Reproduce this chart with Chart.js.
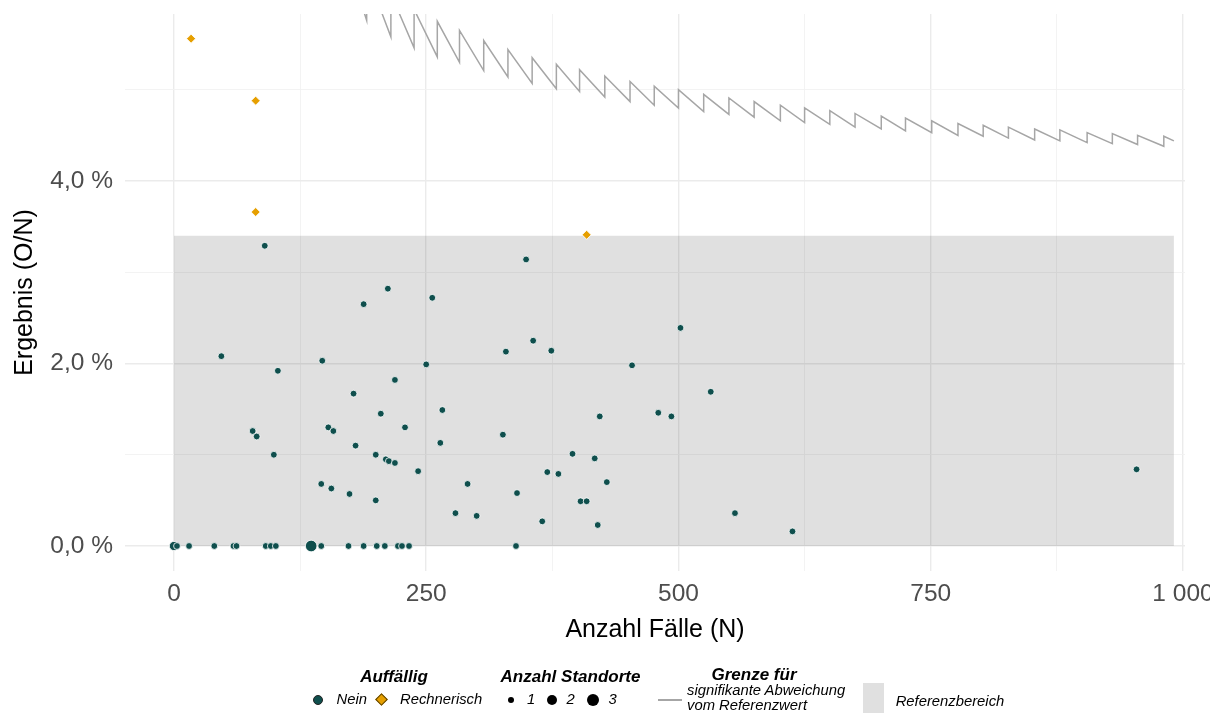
<!DOCTYPE html>
<html lang="de">
<head>
<meta charset="utf-8">
<title>Ergebnis (O/N) nach Anzahl Fälle (N)</title>
<script src="https://cdn.jsdelivr.net/npm/chart.js@4.4.1/dist/chart.umd.min.js"></script>
<style>
  body { margin: 0; background: #fff; font-family: "Liberation Sans", Arial, sans-serif; }
  #wrap { position: relative; width: 1210px; height: 718px; overflow: hidden; }
  #chart { position: absolute; left: 0; top: 0; width: 1226px; height: 718px; }
  .lg { position: absolute; white-space: nowrap; color: #000; }
  .lg-title { font-weight: bold; font-style: italic; font-size: 17px; line-height: 17px; width: 200px; text-align: center; }
  .lg-text { font-style: italic; font-size: 14.8px; line-height: 15px; }
  .key { position: absolute; box-sizing: border-box; }
</style>
</head>
<body>
<div id="wrap">
  <canvas id="chart" width="1226" height="718"></canvas>

  <!-- legend -->
  <div class="lg lg-title" style="left:294px; top:668px;">Auffällig</div>
  <div class="key" style="left:313px; top:694.5px; width:10px; height:10px; border-radius:50%; background:#0F4F4D; border:1px solid #222;"></div>
  <div class="lg lg-text" style="left:336.5px; top:691.7px;">Nein</div>
  <div class="key" style="left:376.5px; top:695px; width:9px; height:9px; transform:rotate(45deg); background:#E69F00; border:1px solid #5a4000;"></div>
  <div class="lg lg-text" style="left:400px; top:691.7px;">Rechnerisch</div>

  <div class="lg lg-title" style="left:470.5px; top:668px;">Anzahl Standorte</div>
  <div class="key" style="left:508px; top:696.5px; width:6px; height:6px; border-radius:50%; background:#000;"></div>
  <div class="lg lg-text" style="left:527px; top:691.7px;">1</div>
  <div class="key" style="left:546.7px; top:694.5px; width:10px; height:10px; border-radius:50%; background:#000;"></div>
  <div class="lg lg-text" style="left:566.5px; top:691.7px;">2</div>
  <div class="key" style="left:587.3px; top:693.5px; width:12px; height:12px; border-radius:50%; background:#000;"></div>
  <div class="lg lg-text" style="left:608.5px; top:691.7px;">3</div>

  <div class="lg lg-title" style="left:654px; top:666px;">Grenze für</div>
  <div class="key" style="left:658px; top:699px; width:24px; height:2px; background:#A6A6A6;"></div>
  <div class="lg lg-text" style="left:687px; top:683.4px; line-height:14.3px;">signifikante Abweichung<br>vom Referenzwert</div>

  <div class="key" style="left:863px; top:683px; width:21px; height:30px; background:#E0E0E0;"></div>
  <div class="lg lg-text" style="left:895.7px; top:694px;">Referenzbereich</div>
</div>

<script>
// ===== DATA =====
// Standorte ohne Auffälligkeit: Fallzahl, Ergebnis in %, Anzahl Standorte
const normN = [
  90, 349, 212, 188, 256, 47, 147, 250, 103, 219,
  178, 205, 266, 78, 82, 153, 158, 229, 180, 264,
  502, 356, 329, 374, 454, 532, 422, 480, 493, 326,
  99, 200, 210, 213, 219, 242, 146, 156, 174, 200,
  395, 417, 370, 381, 291, 429, 340, 403, 409, 279,
  300, 365, 420, 556, 613, 954,
  0, 3, 15, 40, 59, 62, 91, 96, 101, 136,
  146, 173, 188, 201, 209, 222, 226, 233, 339
];
const normRate = [
  3.29, 3.14, 2.82, 2.65, 2.72, 2.08, 2.03, 1.99, 1.92, 1.82,
  1.67, 1.45, 1.49, 1.26, 1.20, 1.30, 1.26, 1.30, 1.10, 1.13,
  2.39, 2.25, 2.13, 2.14, 1.98, 1.69, 1.42, 1.46, 1.42, 1.22,
  1.00, 1.00, 0.95, 0.93, 0.91, 0.82, 0.68, 0.63, 0.57, 0.50,
  1.01, 0.96, 0.81, 0.79, 0.68, 0.70, 0.58, 0.49, 0.49, 0.36,
  0.33, 0.27, 0.23, 0.36, 0.16, 0.84,
  0, 0, 0, 0, 0, 0, 0, 0, 0, 0,
  0, 0, 0, 0, 0, 0, 0, 0, 0
];
const normSites = [
  1, 1, 1, 1, 1, 1, 1, 1, 1, 1,
  1, 1, 1, 1, 1, 1, 1, 1, 1, 1,
  1, 1, 1, 1, 1, 1, 1, 1, 1, 1,
  1, 1, 1, 1, 1, 1, 1, 1, 1, 1,
  1, 1, 1, 1, 1, 1, 1, 1, 1, 1,
  1, 1, 1, 1, 1, 1,
  2, 1, 1, 1, 1, 1, 1, 1, 1, 3,
  1, 1, 1, 1, 1, 1, 1, 1, 1
];

// rechnerisch auffällige Standorte
const flagN = [17, 81, 81, 409];
const flagRate = [5.56, 4.88, 3.66, 3.41];

// Grenze für signifikante Abweichung vom Referenzwert (Sägezahn)
const limitN = [
  168, 191, 191, 215, 215, 238, 238, 261, 261, 283,
  283, 307, 307, 331, 331, 355, 355, 379, 379, 402,
  402, 427, 427, 452, 452, 476, 476, 500, 500, 525,
  525, 550, 550, 575, 575, 601, 601, 625, 625, 650,
  650, 675, 675, 701, 701, 725, 725, 751, 751, 777,
  777, 802, 802, 827, 827, 853, 853, 878, 878, 905,
  905, 930, 930, 955, 955, 981, 981, 991
];
const limitRate = [
  6.55, 5.76, 6.28, 5.58, 6.05, 5.46, 5.88, 5.36, 5.75, 5.30,
  5.65, 5.21, 5.54, 5.14, 5.44, 5.07, 5.35, 5.01, 5.28, 4.98,
  5.22, 4.92, 5.15, 4.87, 5.09, 4.83, 5.04, 4.80, 5.00, 4.76,
  4.95, 4.73, 4.91, 4.70, 4.87, 4.66, 4.83, 4.64, 4.80, 4.62,
  4.77, 4.59, 4.74, 4.57, 4.71, 4.55, 4.69, 4.53, 4.66, 4.50,
  4.63, 4.49, 4.61, 4.47, 4.59, 4.45, 4.57, 4.44, 4.56, 4.42,
  4.53, 4.41, 4.52, 4.40, 4.50, 4.38, 4.49, 4.44
];

// Referenzbereich
const bandN = [0, 991];
const bandRate = [3.4, 3.4];

// Achsen
const xGridTicks = [0, 125, 250, 375, 500, 625, 750, 875, 1000];
const xLabelTicks = [0, 250, 500, 750, 1000];
const yGridTicks = [0, 1, 2, 3, 4, 5];
const yLabelTicks = [0, 2, 4];

// ===== STYLE =====
const TEAL = "#0F4F4D";
const ORANGE = "#E69F00";
const FONT = "'Liberation Sans', Arial, sans-serif";
const sizeRadius = { 1: 3.4, 2: 4.6, 3: 5.8 };

const toPoints = (xs, ys) => xs.map((x, i) => ({ x: x, y: ys[i] }));
const gridColor = (ctx, labels) => labels.includes(ctx.tick.value) ? "#EBEBEB" : "#F2F2F2";
const gridWidth = (ctx, labels) => labels.includes(ctx.tick.value) ? 1.4 : 0.9;

// no extra label overflow padding, the plot panel is placed by layout.padding
const noOverflow = s => {
  s.paddingTop = 0;
  s.paddingBottom = 0;
  s.paddingLeft = 0;
  s.paddingRight = 0;
};

// ===== CHART =====
new Chart(document.getElementById("chart"), {
  type: "scatter",
  data: {
    datasets: [
      {
        label: "Auffällig: Rechnerisch",
        data: toPoints(flagN, flagRate),
        pointStyle: "rectRot",
        pointRadius: 4.5,
        backgroundColor: ORANGE,
        borderColor: "#fff",
        borderWidth: 0.8,
        order: 1
      },
      {
        label: "Auffällig: Nein",
        data: toPoints(normN, normRate),
        pointStyle: "circle",
        pointRadius: ctx => sizeRadius[normSites[ctx.dataIndex]] || 3.4,
        backgroundColor: TEAL,
        borderColor: "#fff",
        borderWidth: 0.8,
        order: 2
      },
      {
        type: "line",
        label: "Grenze für signifikante Abweichung vom Referenzwert",
        data: toPoints(limitN, limitRate),
        borderColor: "#A6A6A6",
        borderWidth: 1.5,
        pointRadius: 0,
        tension: 0,
        fill: false,
        order: 3
      },
      {
        type: "line",
        label: "Referenzbereich",
        data: toPoints(bandN, bandRate),
        borderWidth: 0,
        borderColor: "rgba(0,0,0,0)",
        backgroundColor: "rgba(0,0,0,0.12)",
        pointRadius: 0,
        fill: "origin",
        order: 4
      }
    ]
  },
  options: {
    responsive: false,
    animation: false,
    events: [],
    layout: { padding: { top: 14, right: 41, bottom: 0, left: 0 } },
    plugins: { legend: { display: false }, tooltip: { enabled: false } },
    scales: {
      x: {
        type: "linear",
        min: -48.5,
        max: 1002,
        afterBuildTicks: s => { s.ticks = xGridTicks.map(v => ({ value: v })); },
        afterFit: s => { s.height = 147; noOverflow(s); },
        border: { display: false },
        grid: {
          drawTicks: false,
          color: ctx => gridColor(ctx, xLabelTicks),
          lineWidth: ctx => gridWidth(ctx, xLabelTicks)
        },
        ticks: {
          autoSkip: false,
          maxRotation: 0,
          padding: 9,
          color: "#4D4D4D",
          font: { family: FONT, size: 24.5 },
          callback: v => xLabelTicks.includes(v) ? (v === 1000 ? "1 000" : String(v)) : ""
        },
        title: {
          display: true,
          text: "Anzahl Fälle (N)",
          color: "#000",
          font: { family: FONT, size: 25 },
          padding: { top: 0, bottom: 73 }
        }
      },
      y: {
        type: "linear",
        min: -0.274,
        max: 5.83,
        afterBuildTicks: s => { s.ticks = yGridTicks.map(v => ({ value: v })); },
        afterFit: s => { s.width = 125; noOverflow(s); },
        border: { display: false },
        grid: {
          drawTicks: false,
          color: ctx => gridColor(ctx, yLabelTicks),
          lineWidth: ctx => gridWidth(ctx, yLabelTicks)
        },
        ticks: {
          autoSkip: false,
          padding: 12,
          color: "#4D4D4D",
          font: { family: FONT, size: 24.5 },
          callback: v => yLabelTicks.includes(v) ? v.toFixed(1).replace(".", ",") + " %" : ""
        },
        title: {
          display: true,
          text: "Ergebnis (O/N)",
          color: "#000",
          font: { family: FONT, size: 25 },
          padding: { top: 10, bottom: 0 }
        }
      }
    }
  }
});
</script>
</body>
</html>
